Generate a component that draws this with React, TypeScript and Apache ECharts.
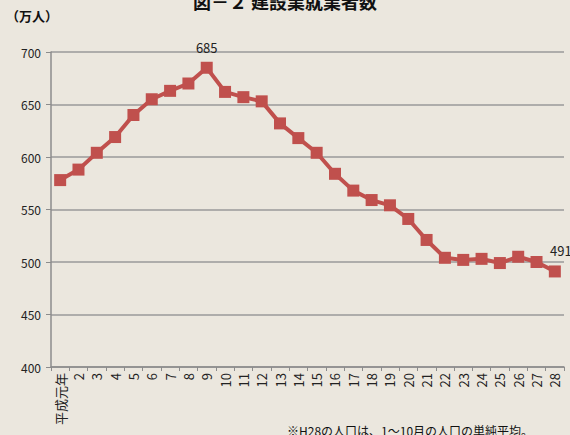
import React, { useEffect, useRef } from "react";
import * as echarts from "echarts";

const categories = ["平成元年", "2", "3", "4", "5", "6", "7", "8", "9", "10", "11", "12", "13", "14", "15", "16", "17", "18", "19", "20", "21", "22", "23", "24", "25", "26", "27", "28"];
const workers = [578, 588, 604, 619, 640, 655, 663, 670, 685, 662, 657, 653, 632, 618, 604, 584, 568, 559, 554, 541, 521, 504, 502, 503, 499, 505, 500, 491];
const labeledIndices = [8, 27];
const yMin = 400;
const yMax = 700;
const yStep = 50;
const titleText = "図－２ 建設業就業者数";
const unitText = "（万人）";
const noteText = "※H28の人口は、1～10月の人口の単純平均。";

const FONT = "'Noto Sans CJK JP', 'Noto Sans', sans-serif";

export default function App() {
  const ref = useRef<HTMLDivElement>(null);
  useEffect(() => {
    document.body.style.margin = "0";
    if (!ref.current) return;
    const chart = echarts.init(ref.current, undefined, { renderer: "svg" });
    chart.setOption({
      animation: false,
      backgroundColor: "#ebe7de",
      textStyle: { fontFamily: FONT },
      grid: { left: 51, right: 6, top: 52, bottom: 68, containLabel: false },
      graphic: [
        {
          type: "text",
          left: 293 - 100,
          top: -8,
          style: { text: titleText, fontSize: 18, fontWeight: "bold", fill: "#111", fontFamily: FONT, width: 200, align: "center" },
        },
        {
          type: "text",
          left: 6,
          top: 9,
          style: { text: unitText, fontSize: 13, fontWeight: "bold", fill: "#111", fontFamily: FONT },
        },
        {
          type: "text",
          left: 287,
          top: 424,
          style: { text: noteText, fontSize: 12, fill: "#111", fontFamily: FONT },
        },
      ],
      xAxis: {
        type: "category",
        data: categories,
        boundaryGap: true,
        axisLine: { lineStyle: { color: "#8c8c8c", width: 1.5 } },
        axisTick: { show: true, length: 4, lineStyle: { color: "#8c8c8c", width: 1 } },
        axisLabel: { rotate: 90, fontSize: 13, color: "#222", margin: 6, interval: 0, fontFamily: FONT },
        splitLine: { show: false },
      },
      yAxis: {
        type: "value",
        min: yMin,
        max: yMax,
        interval: yStep,
        axisLine: { show: true, lineStyle: { color: "#8c8c8c", width: 1.5 } },
        axisTick: { show: true, length: 5, lineStyle: { color: "#8c8c8c", width: 1 } },
        axisLabel: { fontSize: 12, color: "#222", margin: 10, fontFamily: FONT },
        splitLine: { show: true, lineStyle: { color: "#9a9a9a", width: 1.5 } },
      },
      series: [
        {
          type: "line",
          data: workers.map((v, i) => ({
            value: v,
            label: labeledIndices.includes(i)
              ? { show: true, position: "top", distance: 8, offset: i === 27 ? [6, 0] : [0, 0], fontSize: 13, color: "#222", fontFamily: FONT }
              : { show: false },
          })),
          symbol: "rect",
          symbolSize: 12,
          lineStyle: { color: "#c0504d", width: 4 },
          itemStyle: { color: "#c0504d" },
        },
      ],
    });
    return () => chart.dispose();
  }, []);
  return <div ref={ref} style={{ width: 570, height: 435 }} />;
}
